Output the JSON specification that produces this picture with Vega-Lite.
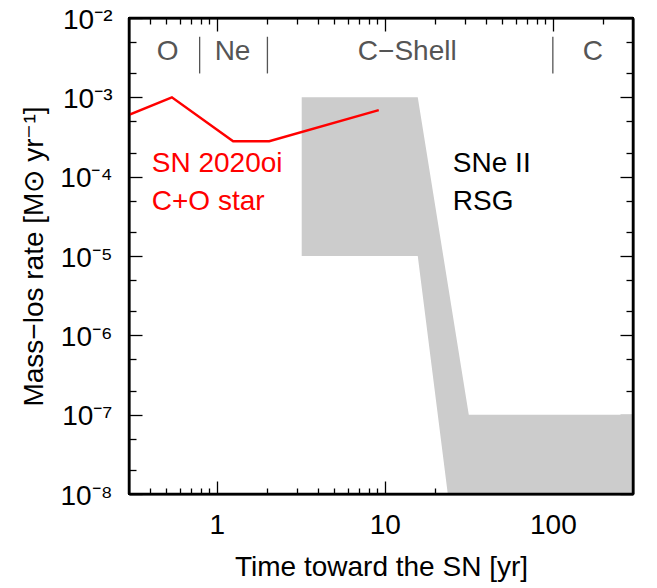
{
  "$schema": "https://vega.github.io/schema/vega-lite/v6.json",
  "width": 504,
  "height": 476,
  "autosize": {"type": "none"},
  "padding": {"left": 129, "top": 18, "right": 24, "bottom": 94},
  "config": {
    "view": {"stroke": "black", "strokeWidth": 2},
    "font": "Liberation Sans",
    "axis": {
      "labelFont": "Liberation Sans",
      "titleFont": "Liberation Sans",
      "labelColor": "black",
      "titleColor": "black",
      "labelFontSize": 28,
      "titleFontSize": 28,
      "titleFontWeight": "normal",
      "domainColor": "black",
      "domainWidth": 2,
      "tickColor": "black",
      "tickWidth": 1.3,
      "grid": false,
      "labelOverlap": false,
      "labelFlush": false,
      "zindex": 1
    },
    "text": {"font": "Liberation Sans", "fontSize": 28}
  },
  "datasets": {
    "band": [
      {"t": 3.2, "hi": 1e-3, "lo": 1e-5},
      {"t": 15.7, "hi": 1e-3, "lo": 1e-5},
      {"t": 31.6, "hi": 1e-7, "lo": 8e-11},
      {"t": 300, "hi": 1e-7, "lo": 8e-11}
    ],
    "sn": [
      {"t": 0.3, "rate": 6.0e-4},
      {"t": 0.54, "rate": 1.0e-3},
      {"t": 1.25, "rate": 2.8e-4},
      {"t": 2.05, "rate": 2.8e-4},
      {"t": 9.2, "rate": 6.9e-4}
    ],
    "seps": [
      {"t": 0.79, "y1": 2.0e-3, "y2": 5.8e-3},
      {"t": 2.0, "y1": 2.0e-3, "y2": 5.8e-3},
      {"t": 100, "y1": 2.0e-3, "y2": 5.8e-3}
    ],
    "frame": [
      {"x1": 0.3, "x2": 300, "y1": 1e-8, "y2": 1e-8},
      {"x1": 0.3, "x2": 300, "y1": 1e-2, "y2": 1e-2},
      {"x1": 0.3, "x2": 0.3, "y1": 1e-8, "y2": 1e-2},
      {"x1": 300, "x2": 300, "y1": 1e-8, "y2": 1e-2}
    ],
    "phases": [
      {"t": 0.51, "y": 2.95e-3, "label": "O"},
      {"t": 1.24, "y": 2.95e-3, "label": "Ne"},
      {"t": 13.6, "y": 2.95e-3, "label": "C−Shell"},
      {"t": 173, "y": 2.95e-3, "label": "C"}
    ],
    "redtext": [
      {"t": 0.41, "y": 1.14e-4, "label": "SN 2020oi"},
      {"t": 0.41, "y": 3.8e-5, "label": "C+O star"}
    ],
    "blacktext": [
      {"t": 25.4, "y": 1.14e-4, "label": "SNe II"},
      {"t": 25.4, "y": 3.8e-5, "label": "RSG"}
    ]
  },
  "resolve": {"axis": {"x": "independent", "y": "independent"}},
  "layer": [
    {
      "data": {"name": "band"},
      "mark": {"type": "area", "color": "#cccccc", "clip": true, "interpolate": "linear"},
      "encoding": {
        "x": {
          "field": "t", "type": "quantitative",
          "scale": {"type": "log", "domain": [0.3, 300], "nice": false},
          "axis": {
            "orient": "bottom",
            "domain": true,
            "title": "Time toward the SN [yr]",
            "values": [1, 10, 100],
            "labelExpr": "format(datum.value, 'd')",
            "tickSize": -13,
            "labelPadding": 30,
            "titleBaseline": "alphabetic",
            "titleY": 81
          }
        },
        "y": {
          "field": "hi", "type": "quantitative",
          "scale": {"type": "log", "domain": [1e-8, 1e-2], "nice": false},
          "axis": {
            "orient": "left",
            "domain": true,
            "title": "Mass−los rate [M⊙ yr⁻¹]",
            "values": [1e-8,1e-7,1e-6,1e-5,1e-4,1e-3,1e-2],
            "labelExpr": "'10' + ['⁻²','⁻³','⁻⁴','⁻⁵','⁻⁶','⁻⁷','⁻⁸'][-2 - round(log(datum.value)/LN10)]",
            "tickSize": -13,
            "labelPadding": 30,
            "labelBaseline": "middle",
            "labelOffset": 2,
            "titleBaseline": "alphabetic",
            "titleX": -87
          }
        },
        "y2": {"field": "lo"}
      }
    },
    {
      "data": {"name": "sn"},
      "mark": {"type": "line", "color": "#ff0000", "strokeWidth": 2.5, "clip": true},
      "encoding": {
        "x": {
          "field": "t", "type": "quantitative",
          "scale": {"type": "log", "domain": [0.3, 300], "nice": false},
          "axis": {
            "orient": "top",
            "domain": true,
            "title": null,
            "labels": false,
            "values": [1, 10, 100],
            "tickSize": -13
          }
        },
        "y": {
          "field": "rate", "type": "quantitative",
          "scale": {"type": "log", "domain": [1e-8, 1e-2], "nice": false},
          "axis": {
            "orient": "right",
            "domain": true,
            "title": null,
            "labels": false,
            "values": [1e-8,1e-7,1e-6,1e-5,1e-4,1e-3,1e-2],
            "tickSize": -13
          }
        }
      }
    },
    {
      "data": {"name": "seps"},
      "mark": {"type": "rule", "color": "#555555", "strokeWidth": 1.3},
      "encoding": {
        "x": {
          "field": "t", "type": "quantitative",
          "axis": {
            "orient": "bottom", "domain": false, "labels": false, "title": null,
            "values": [0.4,0.5,0.6,0.7,0.8,0.9,2,3,4,5,6,7,8,9,20,30,40,50,60,70,80,90,200],
            "tickSize": -6
          }
        },
        "y": {
          "field": "y1", "type": "quantitative",
          "axis": {
            "orient": "left", "domain": false, "labels": false, "title": null,
            "values": [2e-8,5e-8,2e-7,5e-7,2e-6,5e-6,2e-5,5e-5,2e-4,5e-4,2e-3,5e-3],
            "tickSize": -7
          }
        },
        "y2": {"field": "y2"}
      }
    },
    {
      "data": {"name": "phases"},
      "mark": {"type": "text", "color": "#555555", "align": "center", "baseline": "alphabetic"},
      "encoding": {
        "x": {
          "field": "t", "type": "quantitative",
          "axis": {
            "orient": "top", "domain": false, "labels": false, "title": null,
            "values": [0.4,0.5,0.6,0.7,0.8,0.9,2,3,4,5,6,7,8,9,20,30,40,50,60,70,80,90,200],
            "tickSize": -6
          }
        },
        "y": {
          "field": "y", "type": "quantitative",
          "axis": {
            "orient": "right", "domain": false, "labels": false, "title": null,
            "values": [2e-8,5e-8,2e-7,5e-7,2e-6,5e-6,2e-5,5e-5,2e-4,5e-4,2e-3,5e-3],
            "tickSize": -7
          }
        },
        "text": {"field": "label"}
      }
    },
    {
      "data": {"name": "redtext"},
      "mark": {"type": "text", "color": "#ff0000", "align": "left", "baseline": "alphabetic"},
      "encoding": {
        "x": {"field": "t", "type": "quantitative", "axis": null},
        "y": {"field": "y", "type": "quantitative", "axis": null},
        "text": {"field": "label"}
      }
    },
    {
      "data": {"name": "blacktext"},
      "mark": {"type": "text", "color": "black", "align": "left", "baseline": "alphabetic"},
      "encoding": {
        "x": {"field": "t", "type": "quantitative", "axis": null},
        "y": {"field": "y", "type": "quantitative", "axis": null},
        "text": {"field": "label"}
      }
    },
    {
      "data": {"name": "frame"},
      "mark": {"type": "rule", "color": "#000000", "strokeWidth": 2.5},
      "encoding": {
        "x": {"field": "x1", "type": "quantitative", "axis": null},
        "x2": {"field": "x2"},
        "y": {"field": "y1", "type": "quantitative", "axis": null},
        "y2": {"field": "y2"}
      }
    }
  ]
}
